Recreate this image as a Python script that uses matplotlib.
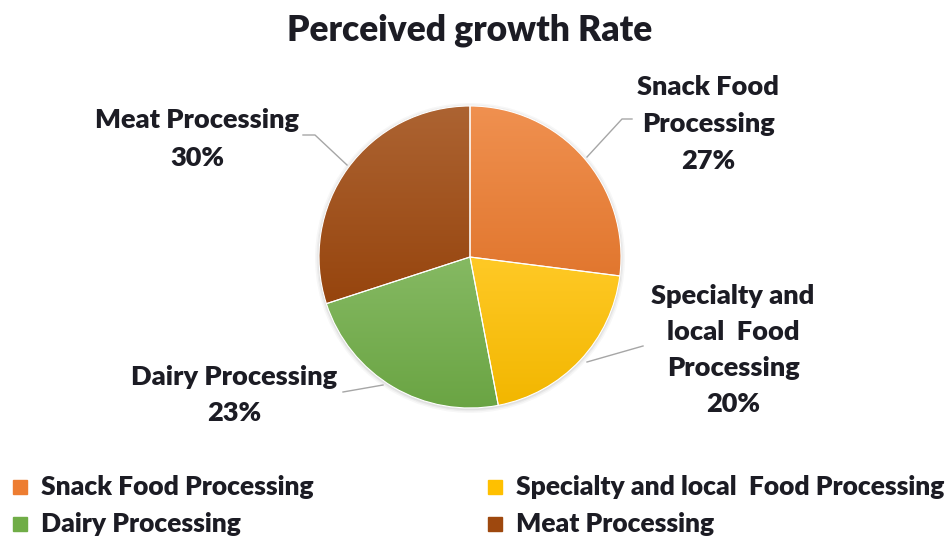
import numpy as np
import matplotlib.pyplot as plt
from matplotlib import colors as mcolors

categories = ['Snack Food Processing', 'Specialty and local  Food Processing',
              'Dairy Processing', 'Meat Processing']
values = [27, 20, 23, 30]
slice_labels = ['Snack Food\nProcessing\n27%', 'Specialty and\nlocal  Food\nProcessing\n20%',
                'Dairy Processing\n23%', 'Meat Processing\n30%']
slice_colors = ['#ED7D31', '#FFC000', '#70AD47', '#9E480E']

plt.rcParams['font.family'] = ['Lato', 'DejaVu Sans']
txt = '#1c1c24'
wt = 'heavy'

fig = plt.figure(figsize=(9.46, 5.43), dpi=100)
ax = fig.add_axes([0, 0, 1, 1])

# work in pixel coordinates (y up)
H = 543
cx, cy, r = 470, H - 257, 151

# soft shadow round the pie
for k, a in [(4, 0.03), (2.5, 0.04), (1.2, 0.05)]:
    ax.add_patch(plt.Circle((cx, cy - 1), r + k, color='black', alpha=a, lw=0, zorder=0))

wedges, _ = ax.pie(values, colors=slice_colors, startangle=90, counterclock=False,
                   center=(cx, cy), radius=r,
                   wedgeprops=dict(edgecolor='white', linewidth=0.8))

# vertical gradient fill inside each slice (lighter at top)
for w, c in zip(wedges, slice_colors):
    base = np.array(mcolors.to_rgb(c))
    light = base + (1 - base) * 0.15
    dark = base * 0.95
    t = np.linspace(0, 1, 256)[:, None]
    grad = light * (1 - t) + dark * t
    img = np.repeat(grad[:, None, :], 2, axis=1)
    ext = w.get_path().get_extents(w.get_patch_transform())
    im = ax.imshow(img, extent=(ext.x0, ext.x1, ext.y0, ext.y1), origin='upper',
                   aspect='auto', zorder=w.get_zorder() + 0.1)
    im.set_clip_path(w)
    w.set_zorder(w.get_zorder() + 0.2)
    w.set_facecolor('none')

ax.set_xlim(0, 946)
ax.set_ylim(0, H)
ax.set_aspect('equal')
ax.set_axis_off()

# data labels with leader lines
label_pos = [(708, 124), (733, 350), (234, 395), (197, 139)]
spacing = [1.64, 1.6, 1.6, 1.72]
leaders = [[(587, 157), (622, 119), (632, 119)],
           [(587, 362), (643, 346)],
           [(383, 385), (343, 392)],
           [(347, 165), (315, 135), (303, 135)]]
for lab, (x, y), ls, pts in zip(slice_labels, label_pos, spacing, leaders):
    ax.text(x, H - y, lab, ha='center', va='center', fontsize=19.5, fontweight=wt,
            color=txt, linespacing=ls)
    xs = [p[0] for p in pts]
    ys = [H - p[1] for p in pts]
    ax.plot(xs, ys, color='#a6a6a6', lw=1)

ax.text(470, H - 30, 'Perceived growth Rate', ha='center', va='center', fontsize=25.5,
        fontweight=wt, color=txt)

# legend
leg_pos = [(20, 487), (495, 487), (20, 524), (495, 524)]
for (x, y), c, name in zip(leg_pos, slice_colors, categories):
    ax.add_patch(plt.Rectangle((x - 7, H - y - 7), 14, 14, color=c))
    ax.text(x + 21, H - y, name, ha='left', va='center', fontsize=19,
            fontweight=wt, color=txt)

fig.savefig('out.png', dpi=100)
